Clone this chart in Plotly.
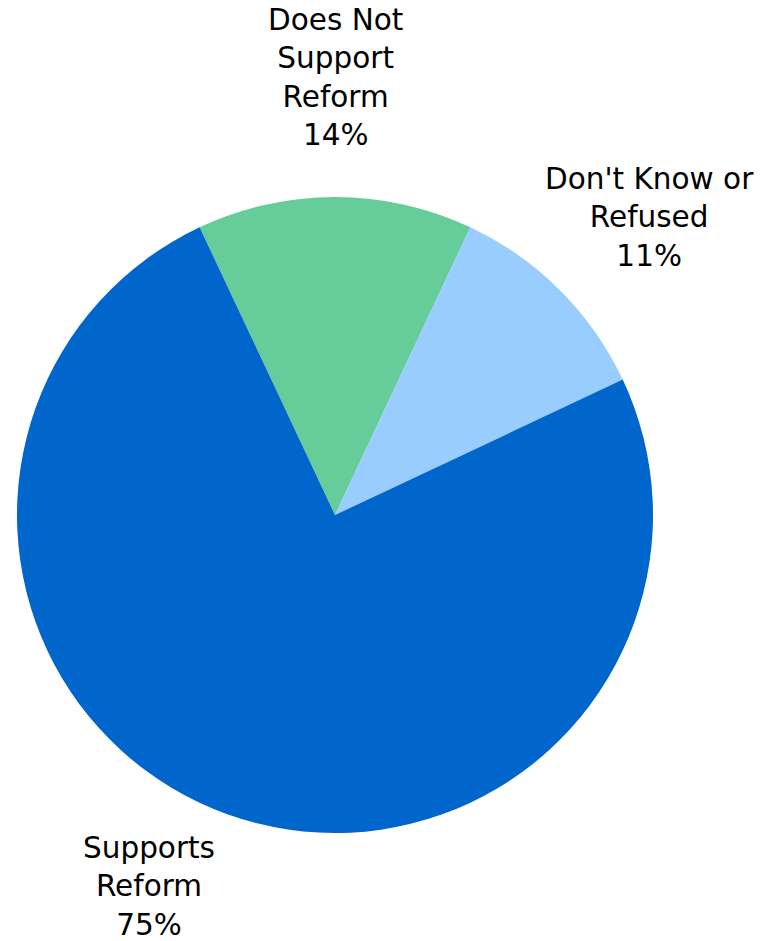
import plotly.graph_objects as go

labels = ["Does Not Support Reform", "Don't Know or Refused", "Supports Reform"]
label_lines = ["Does Not<br>Support<br>Reform", "Don't Know or<br>Refused", "Supports<br>Reform"]
values = [14, 11, 75]
colors = ["#66CC99", "#99CCFF", "#0066CC"]

W, H = 762, 941
cx, cy, r = 335, 515, 318

fig = go.Figure(go.Pie(
    labels=labels,
    values=values,
    sort=False,
    direction="clockwise",
    rotation=-25.2,
    marker=dict(colors=colors, line=dict(width=0)),
    textinfo="none",
    hoverinfo="label+percent",
    showlegend=False,
    domain=dict(x=[(cx - r) / W, (cx + r) / W], y=[1 - (cy + r) / H, 1 - (cy - r) / H]),
))

label_pos = [(335, 77), (649, 217), (149, 886)]
for txt, v, (x, y) in zip(label_lines, values, label_pos):
    fig.add_annotation(
        x=x / W, y=1 - y / H, xref="paper", yref="paper",
        text=f"{txt}<br>{v}%", showarrow=False,
        xanchor="center", yanchor="middle", align="center",
        font=dict(family="DejaVu Sans, Verdana, sans-serif", size=29.5, color="#000000"),
    )

fig.update_layout(
    width=W, height=H,
    margin=dict(l=0, r=0, t=0, b=0),
    paper_bgcolor="white", plot_bgcolor="white",
)

fig.write_html("out.html", config={"displayModeBar": False},
               post_script="document.body.style.margin='0';")
